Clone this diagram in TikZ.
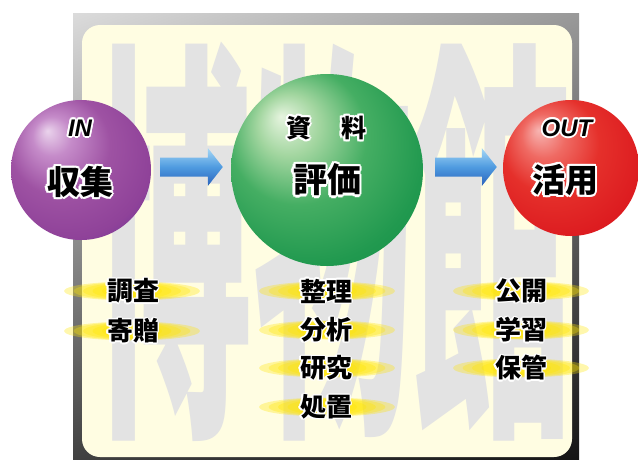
\documentclass[tikz,border=0pt]{standalone}
\usepackage{graphicx}
\usepackage{fontspec}
\newfontfamily\jp{Noto Sans CJK JP}
\newfontfamily\lat{Liberation Sans}
\usetikzlibrary{calc,shadings}
\definecolor{bgyellow}{HTML}{FFFDE2}
\definecolor{wmgray}{HTML}{E3E3E3}
\definecolor{glowyellow}{HTML}{FFE600}
\definecolor{arrtop}{HTML}{A6D8F6}
\definecolor{arrmid}{HTML}{4F9BE0}
\definecolor{arrbot}{HTML}{2A62BC}
\definecolor{pu0}{HTML}{EAD3EC}\definecolor{pu1}{HTML}{C58BC9}\definecolor{pu2}{HTML}{9E52A3}
\definecolor{pu3}{HTML}{8F4299}\definecolor{pu4}{HTML}{6B3399}\definecolor{pu5}{HTML}{44279B}
\definecolor{gr0}{HTML}{E6F4DF}\definecolor{gr1}{HTML}{A3D6A0}\definecolor{gr2}{HTML}{45AE63}
\definecolor{gr3}{HTML}{21994F}\definecolor{gr4}{HTML}{0F8A42}
\definecolor{rd0}{HTML}{F7B5B2}\definecolor{rd1}{HTML}{EF6A63}\definecolor{rd2}{HTML}{E5302B}
\definecolor{rd3}{HTML}{DC1A1F}\definecolor{rd4}{HTML}{B80C16}
% sphere shadings
\pgfdeclareradialshading{purpleball}{\pgfpoint{-12bp}{14bp}}{%
 color(0bp)=(pu0); color(7bp)=(pu1); color(18bp)=(pu2); color(30bp)=(pu3);
 color(38bp)=(pu4); color(44bp)=(pu5); color(50bp)=(pu5)}
\pgfdeclareradialshading{greenball}{\pgfpoint{-12bp}{14bp}}{%
 color(0bp)=(gr0); color(8bp)=(gr1); color(18bp)=(gr2); color(30bp)=(gr3);
 color(44bp)=(gr4); color(50bp)=(gr4)}
\pgfdeclareradialshading{redball}{\pgfpoint{-12bp}{14bp}}{%
 color(0bp)=(rd0); color(8bp)=(rd1); color(18bp)=(rd2); color(32bp)=(rd3);
 color(44bp)=(rd4); color(50bp)=(rd4)}
% text with white halo
\newcommand\halo[2]{%
  \leavevmode
  \foreach \hang in {0,30,...,330}{%
    \pgfmathsetmacro\hdx{#1*cos(\hang)}%
    \pgfmathsetmacro\hdy{#1*sin(\hang)}%
    \rlap{\kern\hdx pt\raisebox{\hdy pt}{\color{white}#2}}}%
  #2}
\tikzset{
  balltitle/.style={inner sep=0, font=\lat\bfseries\itshape\fontsize{24}{26}\selectfont},
  ballmain/.style={inner sep=0, font=\jp\bfseries\fontsize{33}{36}\selectfont},
  item/.style={inner sep=0, font=\jp\bfseries\fontsize{26}{28}\selectfont},
  arrowfill/.style={top color=arrtop, bottom color=arrbot, middle color=arrmid},
}
\newcommand\glow[1]{%
  \foreach \s in {1,0.86,0.72,0.58,0.44}{%
    \fill[glowyellow, opacity=0.32] (#1) ellipse ({68*\s} and {9.5*(0.55+0.45*\s)});}}
\newcommand\blockarrow[2]{%
  \shade[arrowfill] ($(#1)+(0,-9.5)$) -- ($(#2)+(-15,-9.5)$) -- ($(#2)+(-15,-19)$)
    -- (#2) -- ($(#2)+(-15,19)$) -- ($(#2)+(-15,9.5)$) -- ($(#1)+(0,9.5)$) -- cycle;}
\begin{document}
\begin{tikzpicture}[x=1pt,y=-1pt]
\useasboundingbox (0,0) rectangle (638,459);
% frame
\shade[upper left=black!14, upper right=black!40, lower left=black!75, lower right=black!92]
  (73,13) rectangle (579,462);
\fill[bgyellow, rounded corners=18pt] (82,25) rectangle (572,457);
% watermark
\begin{scope}
\clip[rounded corners=18pt] (82,25) rectangle (572,457);
\node[text=wmgray, inner sep=0, anchor=base] (wm) at (333,401)
  {\scalebox{1.6}[4.18]{\jp\bfseries\fontsize{100}{100}\selectfont 博物館}};
\end{scope}
% spheres
\node[circle, minimum size=140pt, inner sep=0, shade, shading=purpleball] (in) at (81,170) {};
\node[circle, minimum size=192pt, inner sep=0, shade, shading=greenball] (ev) at (327,170) {};
\node[circle, minimum size=136pt, inner sep=0, shade, shading=redball] (out) at (571,168) {};
\node[balltitle] (inT) at (80,128) {\halo{1.8}{IN}};
\node[ballmain] (inM) at (80,182) {\halo{2.2}{収集}};
\node[inner sep=0, font=\jp\bfseries\fontsize{25}{27}\selectfont] (evT) at (326,128) {\halo{2}{資\hspace{30pt}料}};
\node[ballmain, font=\jp\bfseries\fontsize{34}{36}\selectfont] (evM) at (327,180) {\halo{2.2}{評価}};
\node[balltitle] (outT) at (567,128) {\halo{1.8}{OUT}};
\node[ballmain] (outM) at (565,180) {\halo{2.2}{活用}};
% arrows
\coordinate (a1s) at ($(in.east)+(9,-3)$);
\coordinate (a1e) at ($(ev.west)+(-8,-3)$);
\coordinate (a2s) at ($(ev.east)+(12,-3)$);
\coordinate (a2e) at ($(out.west)+(-6,-1)$);
\blockarrow{a1s}{a1e}
\blockarrow{a2s}{a2e}
% glows
\glow{132,291} \glow{132,331}
\glow{327,291} \glow{327,330} \glow{327,368} \glow{327,407}
\glow{521,291} \glow{521,330} \glow{521,368}
% items
\node[item] (l1) at (133,291) {\halo{1.2}{調査}};
\node[item] (l2) at (133,331) {\halo{1.2}{寄贈}};
\node[item] (m1) at (326,291) {\halo{1.2}{整理}};
\node[item] (m2) at (326,330) {\halo{1.2}{分析}};
\node[item] (m3) at (326,368) {\halo{1.2}{研究}};
\node[item] (m4) at (326,407) {\halo{1.2}{処置}};
\node[item] (r1) at (521,291) {\halo{1.2}{公開}};
\node[item] (r2) at (521,330) {\halo{1.2}{学習}};
\node[item] (r3) at (521,368) {\halo{1.2}{保管}};
\end{tikzpicture}
\end{document}
